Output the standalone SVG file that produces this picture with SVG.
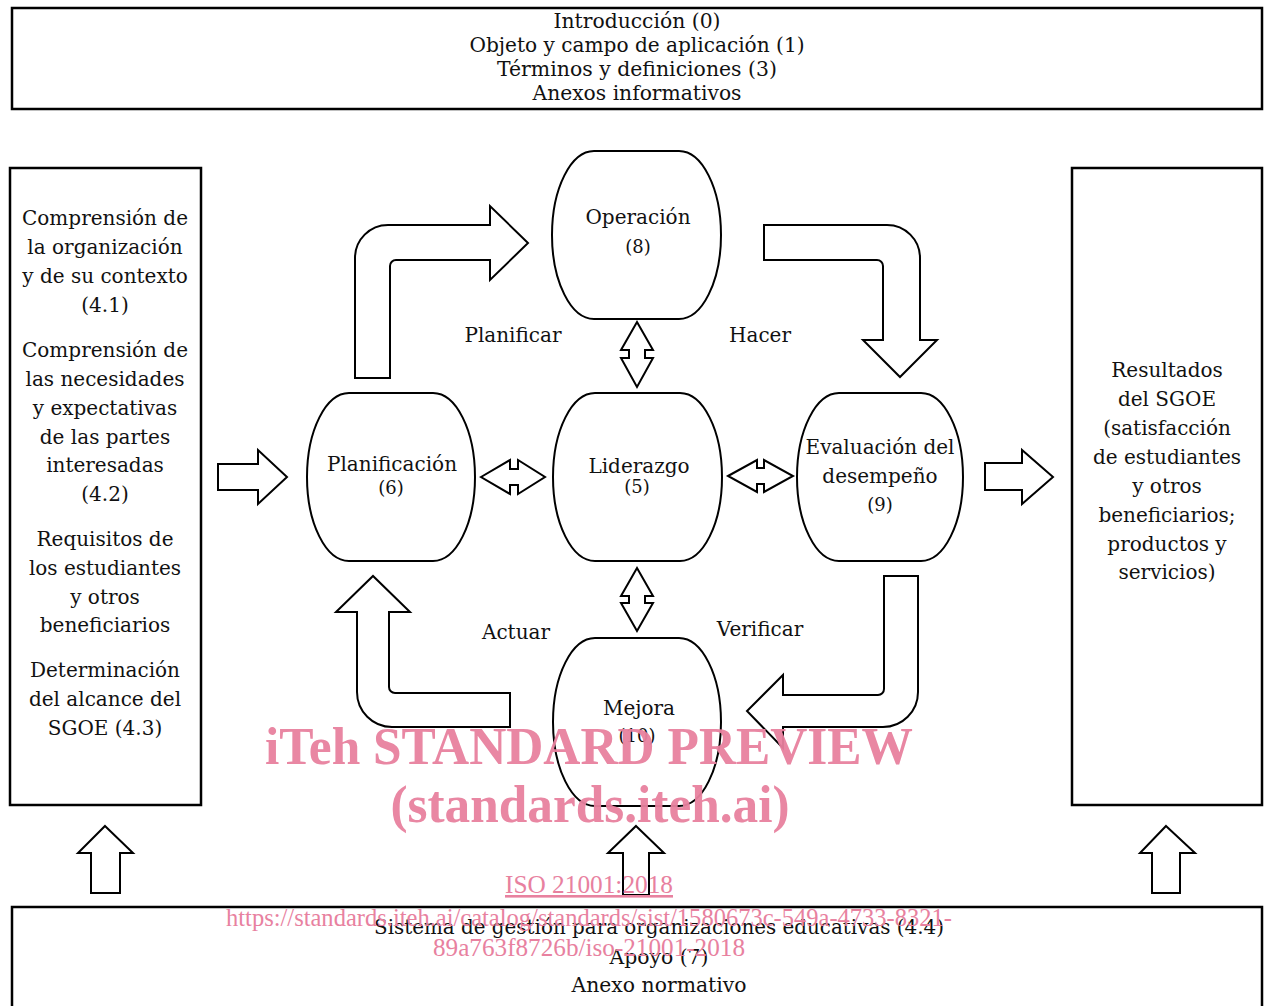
<svg xmlns="http://www.w3.org/2000/svg" width="1266" height="1006" viewBox="0 0 1266 1006">
<style>
.box{fill:#fff;stroke:#000;stroke-width:2.5}
.node{fill:#fff;stroke:#000;stroke-width:2}
.arr{fill:#fff;stroke:#000;stroke-width:2;stroke-linejoin:miter}
.t{font-family:"DejaVu Serif","Liberation Serif",serif;font-size:20px;fill:#111;text-anchor:middle}
.n{font-family:"DejaVu Serif","Liberation Serif",serif;font-size:18px;fill:#111;text-anchor:middle}
.c{font-family:"DejaVu Serif","Liberation Serif",serif;font-size:21px;fill:#111;text-anchor:middle}
.wm{font-family:"Liberation Serif",serif;font-weight:bold;font-size:53px;fill:#e8819f;text-anchor:middle;opacity:0.95}
.wl{font-family:"Liberation Serif",serif;font-size:26px;fill:#e8819f;text-anchor:middle}
</style>
<rect width="1266" height="1006" fill="#fff"/>

<g id="top-box">
<rect class="box" x="12" y="8" width="1250" height="101"/>
<text class="c" x="637" y="28" textLength="167" lengthAdjust="spacingAndGlyphs">Introducción (0)</text>
<text class="c" x="637" y="52" textLength="335" lengthAdjust="spacingAndGlyphs">Objeto y campo de aplicación (1)</text>
<text class="c" x="637" y="76" textLength="280" lengthAdjust="spacingAndGlyphs">Términos y definiciones (3)</text>
<text class="c" x="637" y="100" textLength="209" lengthAdjust="spacingAndGlyphs">Anexos informativos</text>
</g>

<g id="left-box">
<rect class="box" x="10" y="168" width="191" height="637"/>
<text class="t" x="105" y="225">Comprensión de</text>
<text class="t" x="105" y="254">la organización</text>
<text class="t" x="105" y="283">y de su contexto</text>
<text class="t" x="105" y="312">(4.1)</text>
<text class="t" x="105" y="357">Comprensión de</text>
<text class="t" x="105" y="386">las necesidades</text>
<text class="t" x="105" y="415">y expectativas</text>
<text class="t" x="105" y="444">de las partes</text>
<text class="t" x="105" y="472">interesadas</text>
<text class="t" x="105" y="501">(4.2)</text>
<text class="t" x="105" y="546">Requisitos de</text>
<text class="t" x="105" y="575">los estudiantes</text>
<text class="t" x="105" y="604">y otros</text>
<text class="t" x="105" y="632">beneficiarios</text>
<text class="t" x="105" y="677">Determinación</text>
<text class="t" x="105" y="706">del alcance del</text>
<text class="t" x="105" y="735">SGOE (4.3)</text>
</g>

<g id="right-box">
<rect class="box" x="1072" y="168" width="190" height="637"/>
<text class="t" x="1167" y="377">Resultados</text>
<text class="t" x="1167" y="406">del SGOE</text>
<text class="t" x="1167" y="435">(satisfacción</text>
<text class="t" x="1167" y="464">de estudiantes</text>
<text class="t" x="1167" y="493">y otros</text>
<text class="t" x="1167" y="522">beneficiarios;</text>
<text class="t" x="1167" y="551">productos y</text>
<text class="t" x="1167" y="579">servicios)</text>
</g>

<g id="bottom-box">
<rect class="box" x="12" y="907" width="1250" height="110"/>
<text class="c" x="659" y="934" textLength="570" lengthAdjust="spacingAndGlyphs">Sistema de gestión para organizaciones educativas (4.4)</text>
<text class="c" x="659" y="964" textLength="99" lengthAdjust="spacingAndGlyphs">Apoyo (7)</text>
<text class="c" x="659" y="992" textLength="175" lengthAdjust="spacingAndGlyphs">Anexo normativo</text>
</g>

<g id="node-operacion">
<rect class="node" x="552" y="151" width="169" height="168" rx="42" ry="84"/>
<text class="t" x="638" y="224">Operación</text>
<text class="n" x="638" y="253">(8)</text>
</g>
<g id="node-planificacion">
<rect class="node" x="307" y="393" width="168" height="168" rx="42" ry="84"/>
<text class="t" x="392" y="471">Planificación</text>
<text class="n" x="391" y="494">(6)</text>
</g>
<g id="node-liderazgo">
<rect class="node" x="553" y="393" width="169" height="168" rx="42" ry="84"/>
<text class="t" x="639" y="473">Liderazgo</text>
<text class="n" x="637" y="493">(5)</text>
</g>
<g id="node-evaluacion">
<rect class="node" x="797" y="393" width="166" height="168" rx="42" ry="84"/>
<text class="t" x="880" y="454">Evaluación del</text>
<text class="t" x="880" y="483">desempeño</text>
<text class="n" x="880" y="511">(9)</text>
</g>
<g id="node-mejora">
<rect class="node" x="553" y="638" width="168" height="168" rx="42" ry="84"/>
<text class="t" x="639" y="715">Mejora</text>
<text class="n" x="637" y="742">(10)</text>
</g>

<g id="connectors">
<polygon class="arr" points="218,464 258,464 258,450 287,477 258,504 258,490 218,490"/>
<polygon class="arr" points="985,463 1022,463 1022,450 1053,477 1022,504 1022,490 985,490"/>
<polygon class="arr" points="481,477 510,460 510,469 518,469 518,460 545,477 518,494 518,485 510,485 510,494"/>
<polygon class="arr" points="728,476 757,460 757,468 764,468 764,460 793,476 764,492 764,484 757,484 757,492"/>
<polygon class="arr" points="637,322 653,350 645,350 645,358 653,358 637,387 621,358 629,358 629,350 621,350"/>
<polygon class="arr" points="637,568 653,596 645,596 645,603 653,603 637,631 621,603 629,603 629,596 621,596"/>
<path class="arr" d="M355,378 V258 A33,33 0 0 1 388,225 H490 V206 L528,243 L490,280 V260 H396 A6,6 0 0 0 390,266 V378 Z"/>
<path class="arr" d="M764,225 H887 A33,33 0 0 1 920,258 V340 H937 L900,377 L863,340 H883 V266 A6,6 0 0 0 877,260 H764 Z"/>
<path class="arr" d="M884,576 H918 V692 A35,35 0 0 1 883,727 H783 V748 L747,711 L783,675 V695 H878 A6,6 0 0 0 884,689 Z"/>
<path class="arr" d="M510,693 V727 H392 A35,35 0 0 1 357,692 V612 H336 L373,576 L410,612 H389 V687 A6,6 0 0 0 395,693 Z"/>
<polygon class="arr" points="105,826 133,853 120,853 120,893 91,893 91,853 78,853"/>
<polygon class="arr" points="636,826 664,853 649,853 649,895 623,895 623,853 608,853"/>
<polygon class="arr" points="1166,826 1195,853 1180,853 1180,893 1152,893 1152,853 1140,853"/>
<text class="t" x="513" y="342">Planificar</text>
<text class="t" x="760" y="342">Hacer</text>
<text class="t" x="516" y="639">Actuar</text>
<text class="t" x="760" y="636">Verificar</text>
</g>

<g id="watermark">
<text class="wm" x="589" y="764" textLength="648" lengthAdjust="spacingAndGlyphs">iTeh STANDARD PREVIEW</text>
<text class="wm" x="590" y="822" textLength="399" lengthAdjust="spacingAndGlyphs">(standards.iteh.ai)</text>
<text class="wl" x="589" y="893" textLength="168" lengthAdjust="spacingAndGlyphs" text-decoration="underline">ISO 21001:2018</text>
<text class="wl" x="589" y="926" textLength="726" lengthAdjust="spacingAndGlyphs">https://standards.iteh.ai/catalog/standards/sist/1580673c-549a-4733-8321-</text>
<text class="wl" x="589" y="956" textLength="312" lengthAdjust="spacingAndGlyphs">89a763f8726b/iso-21001-2018</text>
</g>
</svg>
